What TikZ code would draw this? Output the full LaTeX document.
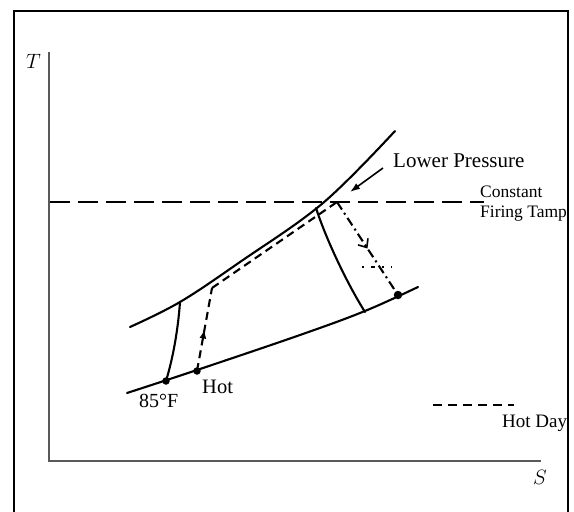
\documentclass[tikz,border=0pt]{standalone}
\usepackage{fontspec}
\setmainfont{Liberation Serif}
\usetikzlibrary{arrows.meta,decorations.markings}
\begin{document}
\begin{tikzpicture}[x=1pt,y=-1pt,
  frameline/.style={line width=2.2pt},
  axisline/.style={line width=1.6pt, black!65},
  curve/.style={line width=2.1pt, line cap=round},
  hotline/.style={line width=2.1pt, dash pattern=on 8pt off 5pt},
  firing/.style={line width=2.4pt, dash pattern=on 20pt off 8pt},
  dashdot/.style={line width=2.1pt, dash pattern=on 9pt off 4pt on 2pt off 4pt},
  dotmark/.style={circle, fill, inner sep=0pt, minimum size=7.5pt},
  lbl/.style={inner sep=0pt, anchor=base west},
  midarrow/.style={postaction={decorate}, decoration={markings, mark=at position 0.5 with {\arrow{#1}}}},
]
\useasboundingbox (0,0) rectangle (574,512);
% frame
\coordinate (fr1) at (14,512);
\coordinate (fr2) at (14,11);
\coordinate (fr3) at (568,11);
\coordinate (fr4) at (568,512);
\draw[frameline] (fr1) -- (fr2) -- (fr3) -- (fr4);
% axes
\coordinate (ax0) at (49,461);
\coordinate (axT) at (49,52);
\coordinate (axS) at (541,461);
\draw[axisline] (axT) -- (ax0) -- (axS);
\node[lbl] (lT) at (26,68) {\fontsize{20}{24}\selectfont $T$};
\node[lbl] (lS) at (533,484) {\fontsize{20}{24}\selectfont $S$};
% upper (high pressure) curve
\coordinate (uA) at (130,327);
\coordinate (u1) at (180,302);
\coordinate (u2) at (240,262);
\coordinate (u3) at (323,203);
\coordinate (uB) at (395,131);
\draw[curve] plot[smooth, tension=0.6] coordinates {(uA) (u1) (u2) (u3) (uB)};
% lower curve
\coordinate (lA) at (127,393);
\coordinate (l1) at (197,370);
\coordinate (l2) at (300,335);
\coordinate (l3) at (365,311);
\coordinate (lB) at (418,287);
\draw[curve] plot[smooth, tension=0.6] coordinates {(lA) (l1) (l2) (l3) (lB)};
% 85F cycle (solid)
\coordinate (p1) at (166,381);
\coordinate (p2) at (180,302);
\coordinate (p3) at (316,208);
\coordinate (p4) at (365,312);
\draw[curve] (p1) .. controls (173,358) and (178,330) .. (p2);
\draw[curve] (p3) .. controls (325,236) and (345,280) .. (p4);
% hot day cycle (dashed)
\coordinate (h1) at (197,371);
\coordinate (h2) at (212,288);
\coordinate (h3) at (337,202);
\coordinate (h4) at (398,295);
\draw[hotline, midarrow={Latex[length=9pt,width=7pt]}] (h1) -- (h2);
\draw[hotline] (h2) -- (h3);
\draw[dashdot, midarrow={Straight Barb[length=7pt,width=12pt,line width=1.6pt]}] (h3) -- (h4);
\coordinate (mkA) at (362,267);
\coordinate (mkB) at (392,267);
\draw[line width=1.3pt, dash pattern=on 2pt off 7pt on 4pt off 7pt] (mkA) -- (mkB);
% dots
\node[dotmark] (d85) at (p1) {};
\node[dotmark] (dhot) at (h1) {};
\node[dotmark, minimum size=8.5pt] (dend) at (h4) {};
% constant firing temperature
\coordinate (ftA) at (50,202);
\coordinate (ftB) at (484,202);
\draw[firing] (ftA) -- (ftB);
\node[lbl] (lConst) at (480,197) {\fontsize{17.5}{20}\selectfont Constant};
\node[lbl] (lFire) at (480,217) {\fontsize{17.5}{20}\selectfont Firing Tamp};
% lower pressure
\node[lbl] (lLP) at (393,167) {\fontsize{21}{24}\selectfont Lower Pressure};
\coordinate (arA) at (383,168);
\coordinate (arB) at (350,192);
\draw[line width=1.6pt, -{Latex[length=10pt,width=7pt]}] (arA) -- (arB);
% point labels
\node[lbl] (l85) at (139,407) {\fontsize{20}{24}\selectfont 85°F};
\node[lbl] (lHot) at (202,393) {\fontsize{20.5}{24}\selectfont Hot};
% legend
\coordinate (lgA) at (433,405);
\coordinate (lgB) at (514,405);
\draw[line width=2.4pt, dash pattern=on 9pt off 6pt] (lgA) -- (lgB);
\node[lbl] (lHD) at (502,427) {\fontsize{19}{22}\selectfont Hot Day};
\end{tikzpicture}
\end{document}
